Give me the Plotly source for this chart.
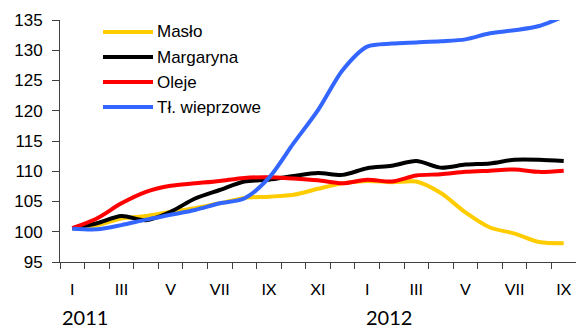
import plotly.graph_objects as go

# Miesiące od I 2011 do IX 2012
months = ["I", "II", "III", "IV", "V", "VI", "VII", "VIII", "IX", "X", "XI", "XII",
          "I", "II", "III", "IV", "V", "VI", "VII", "VIII", "IX"]
tick_labels = ["I", "III", "V", "VII", "IX", "XI", "I", "III", "V", "VII", "IX"]
years = ["2011", "2012"]

maslo = [100.5, 101.1, 102.2, 102.6, 103.3, 103.9, 104.7, 105.6, 105.8, 106.1, 107.1,
         108.0, 108.4, 108.2, 108.3, 106.4, 103.2, 100.7, 99.7, 98.3, 98.1]
margaryna = [100.6, 101.4, 102.6, 101.9, 103.3, 105.5, 106.9, 108.3, 108.6, 109.2, 109.7,
             109.4, 110.5, 110.9, 111.7, 110.6, 111.1, 111.3, 111.9, 111.9, 111.7]
oleje = [100.6, 102.2, 104.7, 106.6, 107.6, 108.0, 108.4, 108.9, 109.0, 108.8, 108.5,
         108.0, 108.6, 108.3, 109.3, 109.5, 109.9, 110.1, 110.3, 109.9, 110.1]
tl_wieprzowe = [100.5, 100.4, 101.1, 102.0, 102.8, 103.6, 104.7, 105.5, 108.9, 114.6, 120.1,
                126.7, 130.6, 131.1, 131.3, 131.5, 131.8, 132.8, 133.3, 134.0, 135.6]

series = [
    ("Masło", maslo, "#FFCC00"),
    ("Margaryna", margaryna, "#000000"),
    ("Oleje", oleje, "#FF0000"),
    ("Tł. wieprzowe", tl_wieprzowe, "#3366FF"),
]

x = list(range(len(months)))

fig = go.Figure()
for name, vals, color in series:
    fig.add_trace(go.Scatter(
        x=x, y=vals, name=name, mode="lines",
        line=dict(color=color, width=4, shape="spline", smoothing=0.8),
        showlegend=False,
    ))

# Plot area geometry (pixels) for placing the legend and year labels
W, H = 576, 329
L, R, T, B = 60, 0, 20, 67
pw, ph = W - L - R, H - T - B


def px_x(px):
    return (px - L) / pw


def px_y(py):
    return (H - B - py) / ph


shapes = []
annotations = []
legend_rows = [32, 57, 82, 107]
for (name, _, color), row in zip(series, legend_rows):
    shapes.append(dict(type="line", xref="paper", yref="paper",
                       x0=px_x(103), x1=px_x(153), y0=px_y(row), y1=px_y(row),
                       line=dict(color=color, width=4)))
    annotations.append(dict(text=name, xref="paper", yref="paper",
                            x=px_x(155), y=px_y(row), xanchor="left", yanchor="middle",
                            showarrow=False,
                            font=dict(family="Liberation Sans, Arial", size=17, color="#000")))

for year, cx in zip(years, [85, 389]):
    annotations.append(dict(text=year, xref="paper", yref="paper",
                            x=px_x(cx), y=px_y(317), xanchor="center", yanchor="middle",
                            showarrow=False,
                            font=dict(family="Lato, Open Sans", size=20, color="#000")))

fig.update_layout(
    width=W, height=H,
    margin=dict(l=L, r=R, t=T, b=B),
    paper_bgcolor="white", plot_bgcolor="white",
    shapes=shapes, annotations=annotations,
    xaxis=dict(
        range=[-0.5, len(months) - 0.5],
        tickmode="array", tickvals=x[::2], ticktext=tick_labels,
        ticks="", ticklen=0, ticklabelstandoff=13,
        showgrid=False, zeroline=False,
        showline=True, linecolor="#404040", linewidth=1,
        tickfont=dict(family="Lato, Open Sans", size=16, color="#000"),
        minor=dict(ticks="outside", ticklen=6, tickcolor="#404040",
                   tickmode="linear", tick0=-0.5, dtick=1, showgrid=False),
    ),
    yaxis=dict(
        range=[95, 135], tickmode="linear", tick0=95, dtick=5,
        ticks="outside", ticklen=7, tickcolor="#404040", ticklabelstandoff=6,
        showgrid=False, zeroline=False,
        showline=True, linecolor="#404040", linewidth=1,
        tickfont=dict(family="Liberation Sans, Arial", size=17, color="#000"),
    ),
)

fig.write_html("out.html")
